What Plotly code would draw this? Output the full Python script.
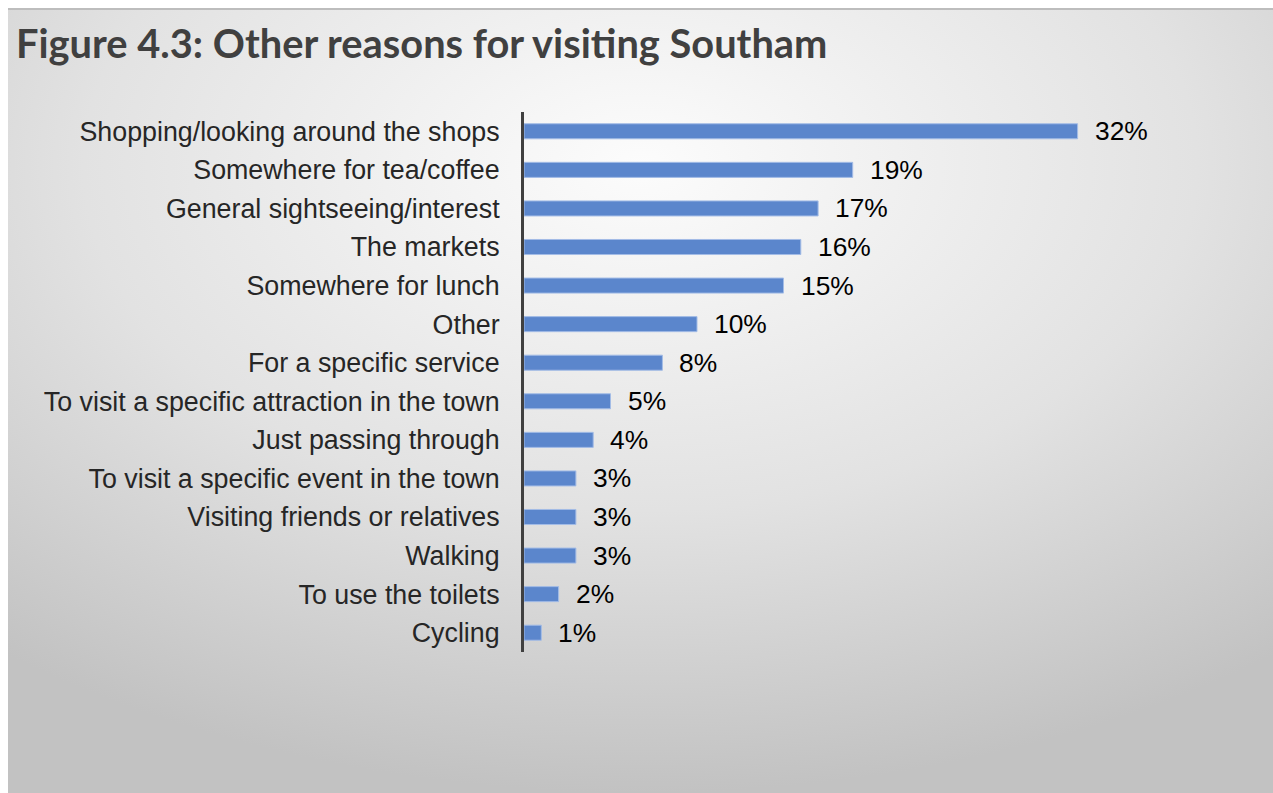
import base64
import plotly.graph_objects as go

categories = [
    "Shopping/looking around the shops",
    "Somewhere for tea/coffee",
    "General sightseeing/interest",
    "The markets",
    "Somewhere for lunch",
    "Other",
    "For a specific service",
    "To visit a specific attraction in the town",
    "Just passing through",
    "To visit a specific event in the town",
    "Visiting friends or relatives",
    "Walking",
    "To use the toilets",
    "Cycling",
]
values = [32, 19, 17, 16, 15, 10, 8, 5, 4, 3, 3, 3, 2, 1]
title_text = "Figure 4.3: Other reasons for visiting Southam"

W, H = 1273, 793
L, R, T, B = 524, 57, 112, 141
pw = W - L - R
ph = H - T - B

svg = (
    '<svg xmlns="http://www.w3.org/2000/svg" width="1265" height="785">'
    '<defs><radialGradient id="g" cx="0.5" cy="0.2" r="0.8">'
    '<stop offset="0" stop-color="#fcfcfc"/>'
    '<stop offset="0.55" stop-color="#e2e2e2"/>'
    '<stop offset="1" stop-color="#c2c2c2"/>'
    '</radialGradient></defs>'
    '<rect width="1265" height="785" fill="url(#g)"/></svg>'
)
bg_src = "data:image/svg+xml;base64," + base64.b64encode(svg.encode()).decode()

fig = go.Figure()
fig.add_trace(go.Bar(
    x=values, y=categories, orientation="h",
    marker=dict(color="#5B86CC", line=dict(color="#A3BCE6", width=1)),
    width=0.39,
    hoverinfo="x+y",
))

for c, v in zip(categories, values):
    fig.add_annotation(
        x=v, y=c, text=f"{v}%", showarrow=False, xanchor="left",
        xshift=15, font=dict(family="Liberation Sans, Arial", size=26.4, color="#000000"),
    )

fig.add_annotation(
    xref="paper", yref="paper",
    x=(14 - L) / pw, y=1 + (T - 42) / ph,
    text=f"<b>{title_text}</b>", showarrow=False, xanchor="left", yanchor="middle",
    font=dict(family="Lato", size=39.8, color="#404040"),
)

fig.add_layout_image(
    source=bg_src, xref="paper", yref="paper",
    x=(8 - L) / pw, y=1 + (T - 8) / ph,
    sizex=(W - 8) / pw, sizey=(H - 8) / ph,
    sizing="stretch", xanchor="left", yanchor="top", layer="below",
)
fig.add_shape(
    type="line", xref="paper", yref="paper",
    x0=(8 - L) / pw, x1=(W - L) / pw,
    y0=1 + (T - 9) / ph, y1=1 + (T - 9) / ph,
    line=dict(color="#BDBDBD", width=2),
)

fig.update_layout(
    width=W, height=H,
    margin=dict(l=L, r=R, t=T, b=B),
    paper_bgcolor="white",
    plot_bgcolor="rgba(0,0,0,0)",
    showlegend=False,
    xaxis=dict(range=[0, pw / 17.3], visible=False, fixedrange=True),
    yaxis=dict(
        autorange="reversed", showline=True, linecolor="#404040", linewidth=3,
        ticks="", showgrid=False, ticklabelstandoff=16,
        tickfont=dict(family="Liberation Sans, Arial", size=26.8, color="#262626"),
    ),
)

fig.write_html("out.html")
